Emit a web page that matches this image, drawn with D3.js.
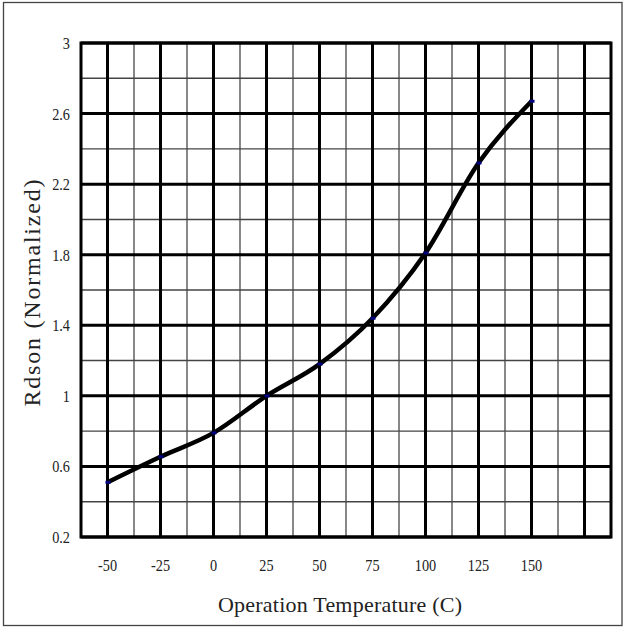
<!DOCTYPE html>
<html>
<head>
<meta charset="utf-8">
<script src="https://cdn.jsdelivr.net/npm/d3@7"></script>
<style>
  body { margin: 0; background: #fff; }
  text { font-family: "Liberation Serif", "DejaVu Serif", serif; fill: #222; }
</style>
</head>
<body>
<div id="chart"></div>
<script>
// temperature (C) and normalized Rdson
temps = [-50, -25, 0, 25, 50, 75, 100, 125, 150];
rdson = [0.51, 0.655, 0.79, 1.0, 1.18, 1.44, 1.81, 2.32, 2.67];

xTickLabels = [-50, -25, 0, 25, 50, 75, 100, 125, 150];
yTickLabels = [0.2, 0.6, 1, 1.4, 1.8, 2.2, 2.6, 3];

width = 625;
height = 628;

var svg = d3.select("#chart")
    .append("svg")
    .attr("width", width)
    .attr("height", height);

// outer frame
svg.append("rect")
    .attr("x", 3.5)
    .attr("y", 2.5)
    .attr("width", 618.5)
    .attr("height", 623)
    .attr("fill", "none")
    .attr("stroke", "#444")
    .attr("stroke-width", 1.3);

var x = d3.scaleLinear().domain([-62.5, 187.5]).range([81, 611]);
var y = d3.scaleLinear().domain([0.2, 3]).range([537, 43]);

var grid = svg.append("g");
var minor = grid.append("g");
var major = grid.append("g");

d3.range(-62.5, 187.6, 12.5).forEach(function (v) {
    var isMajor = (v % 25 == 0);
    (isMajor ? major : minor).append("line")
        .attr("x1", x(v)).attr("x2", x(v))
        .attr("y1", y(0.2)).attr("y2", y(3))
        .attr("stroke", isMajor ? "#000" : "#555")
        .attr("stroke-width", isMajor ? 3 : 1.4);
});
d3.range(0.2, 3.01, 0.2).forEach(function (v, i) {
    var isMajor = (i % 2 == 0);
    (isMajor ? major : minor).append("line")
        .attr("x1", x(-62.5)).attr("x2", x(187.5))
        .attr("y1", y(v)).attr("y2", y(v))
        .attr("stroke", isMajor ? "#000" : "#444")
        .attr("stroke-width", isMajor ? 3 : 1.4);
});

// plot border
svg.append("rect")
    .attr("x", x(-62.5))
    .attr("y", y(3))
    .attr("width", x(187.5) - x(-62.5))
    .attr("height", y(0.2) - y(3))
    .attr("fill", "none")
    .attr("stroke", "#000")
    .attr("stroke-width", 3);

// tick labels (narrow, tall font in the original)
svg.selectAll(".ylab")
    .data(yTickLabels)
    .enter()
    .append("text")
    .attr("class", "ylab")
    .attr("transform", function (d) { return "translate(70," + (y(d) + 6) + ") scale(0.84,1)"; })
    .attr("text-anchor", "end")
    .style("font-size", "17px")
    .text(function (d) { return d; });

svg.selectAll(".xlab")
    .data(xTickLabels)
    .enter()
    .append("text")
    .attr("class", "xlab")
    .attr("transform", function (d) { return "translate(" + x(d) + ",571) scale(0.84,1)"; })
    .attr("text-anchor", "middle")
    .style("font-size", "17px")
    .text(function (d) { return d; });

// axis titles
svg.append("text")
    .attr("x", 340)
    .attr("y", 612)
    .attr("text-anchor", "middle")
    .attr("textLength", 244)
    .attr("lengthAdjust", "spacing")
    .style("font-size", "22px")
    .text("Operation Temperature (C)");

svg.append("text")
    .attr("transform", "translate(40,293) rotate(-90)")
    .attr("text-anchor", "middle")
    .attr("textLength", 227)
    .attr("lengthAdjust", "spacing")
    .style("font-size", "24px")
    .text("Rdson (Normalized)");

// curve
var data = temps.map(function (t, i) { return { t: t, v: rdson[i] }; });

var line = d3.line()
    .x(function (d) { return x(d.t); })
    .y(function (d) { return y(d.v); })
    .curve(d3.curveMonotoneX);

svg.append("path")
    .datum(data)
    .attr("d", line)
    .attr("fill", "none")
    .attr("stroke", "#000")
    .attr("stroke-width", 4.5);

svg.selectAll(".pt")
    .data(data)
    .enter()
    .append("rect")
    .attr("class", "pt")
    .attr("x", function (d) { return x(d.t) - 2; })
    .attr("y", function (d) { return y(d.v) - 1.5; })
    .attr("width", 5)
    .attr("height", 3)
    .attr("fill", "#000080");
</script>
</body>
</html>
